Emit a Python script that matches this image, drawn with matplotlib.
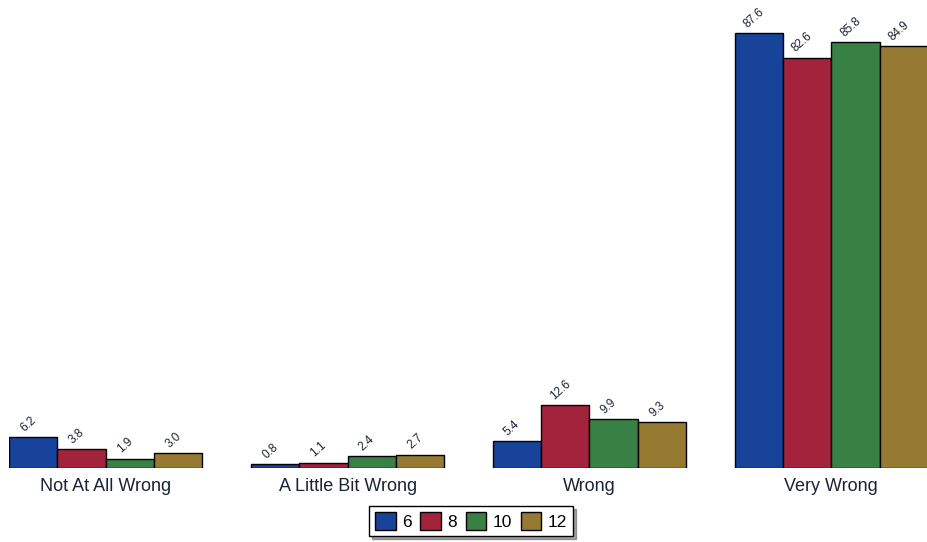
import numpy as np
import matplotlib.pyplot as plt

plt.rcParams['font.family'] = ['Liberation Sans', 'DejaVu Sans']

categories = ['Not At All Wrong', 'A Little Bit Wrong', 'Wrong', 'Very Wrong']
grades = ['6', '8', '10', '12']
vals_6 = [6.2, 0.8, 5.4, 87.6]
vals_8 = [3.8, 1.1, 12.6, 82.6]
vals_10 = [1.9, 2.4, 9.9, 85.8]
vals_12 = [3.0, 2.7, 9.3, 84.9]
colors = ['#17449a', '#a3223c', '#388043', '#967a32']

series = [vals_6, vals_8, vals_10, vals_12]

fig = plt.figure(figsize=(9.28, 5.42), dpi=100)
ax = fig.add_axes([9/928, 74/542, 919/928, 468/542])

centers = np.arange(len(categories)) * 5
offsets = [-1.5, -0.5, 0.5, 1.5]
txtcol = '#1c2236'
for i, vals in enumerate(series):
    xs = centers + offsets[i]
    ax.bar(xs, vals, width=1.0, color=colors[i], edgecolor='black', linewidth=1.0, label=grades[i])
    for x, v in zip(xs, vals):
        ax.text(x - 0.1, v + 0.6, '%.1f' % v, rotation=42, ha='center', va='bottom',
                fontsize=8.5, color=txtcol)

ax.set_xlim(-2, 17)
ax.set_ylim(0, 94.2)
for s in ax.spines.values():
    s.set_visible(False)
ax.set_yticks([])
ax.set_xticks(centers)
ax.set_xticklabels(categories, fontsize=13, color=txtcol)
ax.tick_params(axis='x', length=0, pad=7)

leg = fig.legend(loc='center', bbox_to_anchor=(471/928, 21/542), ncol=4, fontsize=12.5,
                 frameon=True, fancybox=False, shadow=True, handlelength=1.2, handleheight=1.2,
                 handletextpad=0.35, columnspacing=0.5, borderpad=0.35)
leg.get_frame().set_edgecolor('black')
leg.get_frame().set_linewidth(1.0)
for h in leg.legend_handles:
    h.set_edgecolor('black')

fig.savefig('out.png', dpi=100)
